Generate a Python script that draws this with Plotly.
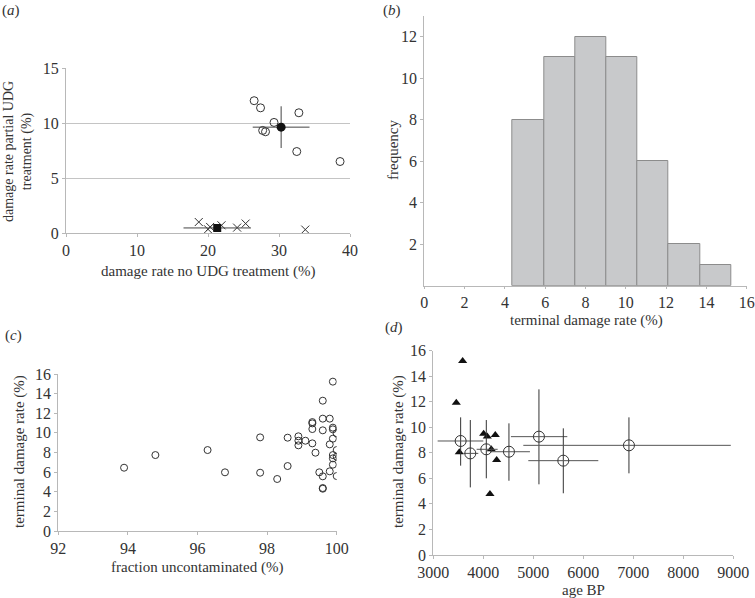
import plotly.graph_objects as go

# (a) damage rate with / without UDG treatment
a_circ_x = [26.5, 27.4, 27.7, 28.1, 29.3, 32.8, 32.5, 38.6]
a_circ_y = [12.05, 11.4, 9.34, 9.22, 10.07, 10.95, 7.42, 6.51]
a_cross_x = [18.7, 20.0, 20.3, 21.9, 24.1, 25.3, 33.7]
a_cross_y = [1.0, 0.34, 0.55, 0.70, 0.49, 0.86, 0.31]
a_mean_circ = (30.3, 9.64, 4.0, 1.9)     # x, y, xerr, yerr
a_mean_sq = (21.3, 0.46, 4.75, 0.1)

# (b) histogram of terminal damage rate
b_edges = [4.35, 5.94, 7.48, 9.05, 10.59, 12.13, 13.68, 15.26]
b_counts = [8, 11, 12, 11, 6, 2, 1]

# (c) terminal damage vs fraction uncontaminated
c_x = [93.89, 94.79, 96.29, 96.79, 97.80, 97.80, 98.29, 98.59, 98.59, 98.90, 98.90, 98.90,
       99.10, 99.30, 99.30, 99.30, 99.30, 99.39, 99.50, 99.60, 99.60, 99.60, 99.60, 99.60,
       99.60, 99.80, 99.80, 99.80, 99.89, 99.89, 99.89, 99.89, 99.89, 99.89, 99.89,
       100.0, 100.0, 100.0, 100.0]
c_y = [6.45, 7.74, 8.25, 5.98, 9.54, 5.94, 5.30, 9.51, 6.62, 9.65, 9.2, 8.73,
       9.2, 11.1, 10.97, 10.39, 8.93, 7.98, 5.98, 13.28, 11.45, 10.26, 5.57, 4.38,
       4.31, 11.45, 8.83, 6.08, 15.22, 10.53, 10.36, 9.41, 7.74, 7.40, 6.76,
       9.95, 8.25, 7.57, 5.60]

# (d) terminal damage vs age
d_tri_x = [3587, 3460, 3520, 4007, 4080, 4240, 4160, 4267, 4133]
d_tri_y = [15.18, 11.92, 8.03, 9.49, 9.28, 9.39, 8.27, 7.43, 4.77]
d_circ_x = [3547, 3740, 4060, 4513, 5113, 5600, 6913]
d_circ_y = [8.92, 7.95, 8.27, 8.08, 9.26, 7.38, 8.58]
d_x_lo = [3087, 3600, 3867, 4133, 4553, 4900, 4800]
d_x_hi = [4000, 3900, 4287, 4933, 5680, 6300, 8950]
d_y_lo = [6.99, 5.29, 6.00, 5.81, 5.53, 4.83, 6.39]
d_y_hi = [10.77, 10.56, 10.56, 10.30, 12.96, 9.91, 10.77]

FONT = "Liberation Serif"
TXT = "#333333"
AX = "#b8b8b8"

fig = go.Figure()

# ---- panel a
fig.add_trace(go.Scatter(x=a_circ_x, y=a_circ_y, mode="markers", xaxis="x", yaxis="y",
                         marker=dict(symbol="circle-open", size=8, color="#333", line=dict(width=1))))
fig.add_trace(go.Scatter(x=a_cross_x, y=a_cross_y, mode="markers", xaxis="x", yaxis="y",
                         marker=dict(symbol="x-thin-open", size=8, color="#333", line=dict(width=1, color="#333"))))
fig.add_trace(go.Scatter(x=[a_mean_circ[0]], y=[a_mean_circ[1]], mode="markers", xaxis="x", yaxis="y",
                         error_x=dict(type="constant", value=a_mean_circ[2], width=0, thickness=1, color="#444"),
                         error_y=dict(type="constant", value=a_mean_circ[3], width=0, thickness=1, color="#444"),
                         marker=dict(symbol="circle", size=9, color="#111")))
fig.add_trace(go.Scatter(x=[a_mean_sq[0]], y=[a_mean_sq[1]], mode="markers", xaxis="x", yaxis="y",
                         error_x=dict(type="constant", value=a_mean_sq[2], width=0, thickness=1, color="#444"),
                         error_y=dict(type="constant", value=a_mean_sq[3], width=0, thickness=1, color="#444"),
                         marker=dict(symbol="square", size=8, color="#111")))

# ---- panel b
mids = [(b_edges[i] + b_edges[i + 1]) / 2 for i in range(len(b_counts))]
widths = [b_edges[i + 1] - b_edges[i] for i in range(len(b_counts))]
fig.add_trace(go.Bar(x=mids, y=b_counts, width=widths, xaxis="x2", yaxis="y2",
                     marker=dict(color="#c8c9cb", line=dict(color="#8c8c8c", width=1))))

# ---- panel c
fig.add_trace(go.Scatter(x=c_x, y=c_y, mode="markers", xaxis="x3", yaxis="y3",
                         marker=dict(symbol="circle-open", size=7, color="#333", line=dict(width=1))))

# ---- panel d
fig.add_trace(go.Scatter(x=d_tri_x, y=d_tri_y, mode="markers", xaxis="x4", yaxis="y4",
                         marker=dict(symbol="triangle-up", size=8, color="#111")))
fig.add_trace(go.Scatter(
    x=d_circ_x, y=d_circ_y, mode="markers", xaxis="x4", yaxis="y4",
    error_x=dict(type="data", symmetric=False,
                 array=[h - x for h, x in zip(d_x_hi, d_circ_x)],
                 arrayminus=[x - l for l, x in zip(d_x_lo, d_circ_x)],
                 width=0, thickness=1, color="#555"),
    error_y=dict(type="data", symmetric=False,
                 array=[h - y for h, y in zip(d_y_hi, d_circ_y)],
                 arrayminus=[y - l for l, y in zip(d_y_lo, d_circ_y)],
                 width=0, thickness=1, color="#333"),
    marker=dict(symbol="circle-open", size=11, color="#333", line=dict(width=1))))

W, H = 755, 598


def xd(a, b):
    return [a / W, b / W]


def yd(top, bot):
    return [1 - bot / H, 1 - top / H]


tick = dict(tickfont=dict(family=FONT, size=16, color=TXT), showline=True, linecolor=AX,
            linewidth=1, ticks="outside", ticklen=3, tickcolor=AX, zeroline=False,
            automargin=False)

fig.update_layout(
    width=W, height=H, showlegend=False, plot_bgcolor="white", paper_bgcolor="white",
    margin=dict(l=0, r=0, t=0, b=0, pad=0), bargap=0,
    xaxis=dict(domain=xd(66, 350), range=[0, 40], dtick=10, showgrid=False, anchor="y", **tick),
    yaxis=dict(domain=yd(68.3, 233), range=[0, 15], dtick=5, showgrid=True, gridcolor="#c4c4c4",
               anchor="x", **tick),
    xaxis2=dict(domain=xd(424.3, 746.7), range=[0, 16], dtick=2, showgrid=False, anchor="y2", **tick),
    yaxis2=dict(domain=yd(16, 285.7), range=[0, 13], tickvals=[2, 4, 6, 8, 10, 12], showgrid=False,
                anchor="x2", **tick),
    xaxis3=dict(domain=xd(58.3, 336.7), range=[92, 100], dtick=2, showgrid=False, anchor="y3", **tick),
    yaxis3=dict(domain=yd(374, 531), range=[0, 16], dtick=2, showgrid=False, anchor="x3", **tick),
    xaxis4=dict(domain=xd(433.3, 733.3), range=[3000, 9000], dtick=1000, showgrid=False, anchor="y4", **tick),
    yaxis4=dict(domain=yd(350.5, 555), range=[0, 16], dtick=2, showgrid=False, anchor="x4", **tick),
)
fig.update_layout(xaxis2_ticklen=2)


def label(text, x, y, angle=0, size=15):
    fig.add_annotation(text=text, x=x / W, y=1 - y / H, xref="paper", yref="paper",
                       showarrow=False, textangle=angle, xanchor="center", yanchor="middle",
                       font=dict(family=FONT, size=size, color=TXT))


label("(<i>a</i>)", 11, 11)
label("(<i>b</i>)", 392, 11)
label("(<i>c</i>)", 13, 335)
label("(<i>d</i>)", 394, 327)

label("damage rate no UDG treatment (%)", 208, 271)
label("damage rate partial UDG<br>treatment (%)", 18, 152, angle=-90, size=14)
label("terminal damage rate (%)", 586, 320)
label("frequency", 393, 150, angle=-90)
label("fraction uncontaminated (%)", 197, 567)
label("terminal damage rate (%)", 19, 452, angle=-90)
label("age BP", 583, 590)
label("terminal damage rate (%)", 398, 452, angle=-90)

# page body has a default 8px margin; drop it so the figure fills the window
fig.write_html("out.html", config={"displayModeBar": False},
               post_script="document.body.style.margin='0';document.body.style.overflow='hidden';")
